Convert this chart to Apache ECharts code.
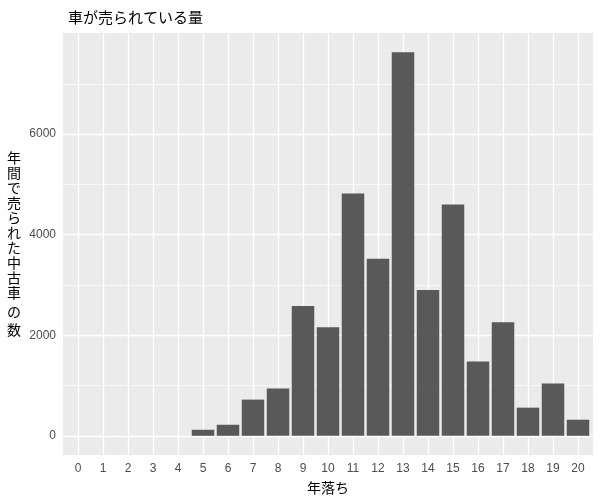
<!DOCTYPE html>
<html>
<head>
<meta charset="utf-8">
<script src="https://cdn.jsdelivr.net/npm/echarts@6/dist/echarts.min.js"></script>
<style>html,body{margin:0;padding:0;background:#fff;}#c{width:600px;height:500px;}</style>
</head>
<body>
<div id="c"></div>
<script>
// ---- data ----
var categories = ['0','1','2','3','4','5','6','7','8','9','10','11','12','13','14','15','16','17','18','19','20'];
var counts = [0,0,0,0,0,120,220,720,940,2580,2160,4820,3520,7630,2900,4600,1480,2260,560,1040,320];
var yTicks = [0,2000,4000,6000];
var yMinor = [1000,3000,5000,7000];
var titleText = '車が売られている量';
var xTitle = '年落ち';
var yTitleChars = ['年','間','で','売','ら','れ','た','中','古','車','の','数'];

var FONT = '"Liberation Sans", Arial, "Noto Sans CJK JP", sans-serif';
var JFONT = '"Noto Sans CJK JP", "Liberation Sans", sans-serif';

var maxV = Math.max.apply(null, counts);
var minV = 0;
var pad = (maxV - minV) * 0.05;
var xIdx = categories.map(function(c, i){ return i; });
var barData = categories.map(function(c, i){ return [i, counts[i]]; });

var grid = {left: 63, right: 7, top: 33, bottom: 45};
var plotW = 600 - grid.left - grid.right;
var unit = plotW / (categories.length - 1 + 1.2);

var gridLines = [];
xIdx.forEach(function(i){ gridLines.push({xAxis: i, lineStyle: {color: '#ffffff', width: 1.3, type: 'solid'}}); });
yTicks.forEach(function(v){ gridLines.push({yAxis: v, lineStyle: {color: '#ffffff', width: 1.3, type: 'solid'}}); });
yMinor.forEach(function(v){ gridLines.push({yAxis: v, lineStyle: {color: '#ffffff', width: 0.7, type: 'solid'}}); });

// y title as rich text, one char per line
var yTitleText = yTitleChars.map(function(ch){ return ch === 'の' ? '{n|' + ch + '}' : '{c|' + ch + '}'; }).join('\n');

var chart = echarts.init(document.getElementById('c'), null, {renderer: 'canvas'});
chart.setOption({
  animation: false,
  backgroundColor: '#ffffff',
  title: {
    text: titleText,
    left: 63, top: 5,
    textStyle: {fontFamily: JFONT, fontSize: 15, fontWeight: 'normal', color: '#000000'}
  },
  grid: {left: grid.left, right: grid.right, top: grid.top, bottom: grid.bottom, show: true, backgroundColor: '#ebebeb', borderWidth: 0},
  xAxis: {
    type: 'value',
    min: -0.6, max: categories.length - 1 + 0.6,
    axisLine: {show: false},
    splitLine: {show: false},
    axisTick: {show: true, customValues: xIdx, length: 4, lineStyle: {color: '#333333', width: 1}},
    axisLabel: {show: true, customValues: xIdx, margin: 8, color: '#4d4d4d', fontSize: 12, fontFamily: FONT,
      formatter: function(v){ return categories[Math.round(v)]; }}
  },
  yAxis: {
    type: 'value',
    min: minV - pad, max: maxV + pad,
    axisLine: {show: false},
    splitLine: {show: false},
    axisTick: {show: true, customValues: yTicks, length: 4, lineStyle: {color: '#333333', width: 1}},
    axisLabel: {show: true, customValues: yTicks, margin: 7, color: '#4d4d4d', fontSize: 12, fontFamily: FONT,
      formatter: function(v){ return String(Math.round(v)); }}
  },
  graphic: [
    {type: 'text', silent: true, x: 14, y: (grid.top + 500 - grid.bottom) / 2,
     style: {text: yTitleText, fill: '#000000', align: 'center', verticalAlign: 'middle',
       fontFamily: JFONT, fontSize: 14,
       rich: {c: {fontSize: 14, lineHeight: 15, fontFamily: JFONT, fill: '#000000', align: 'center'},
              n: {fontSize: 14, lineHeight: 22, fontFamily: JFONT, fill: '#000000', align: 'center'}}}},
    {type: 'text', silent: true, x: grid.left + plotW / 2, y: 488,
     style: {text: xTitle, fill: '#000000', align: 'center', verticalAlign: 'middle', fontFamily: JFONT, fontSize: 14}}
  ],
  series: [{
    type: 'bar',
    data: barData,
    z: 2,
    barWidth: unit * 0.9,
    itemStyle: {color: '#595959'},
    emphasis: {disabled: true},
    silent: true,
    markLine: {
      z: 1, silent: true, animation: false,
      symbol: ['none','none'],
      label: {show: false},
      emphasis: {disabled: true},
      data: gridLines
    }
  }]
});
</script>
</body>
</html>
